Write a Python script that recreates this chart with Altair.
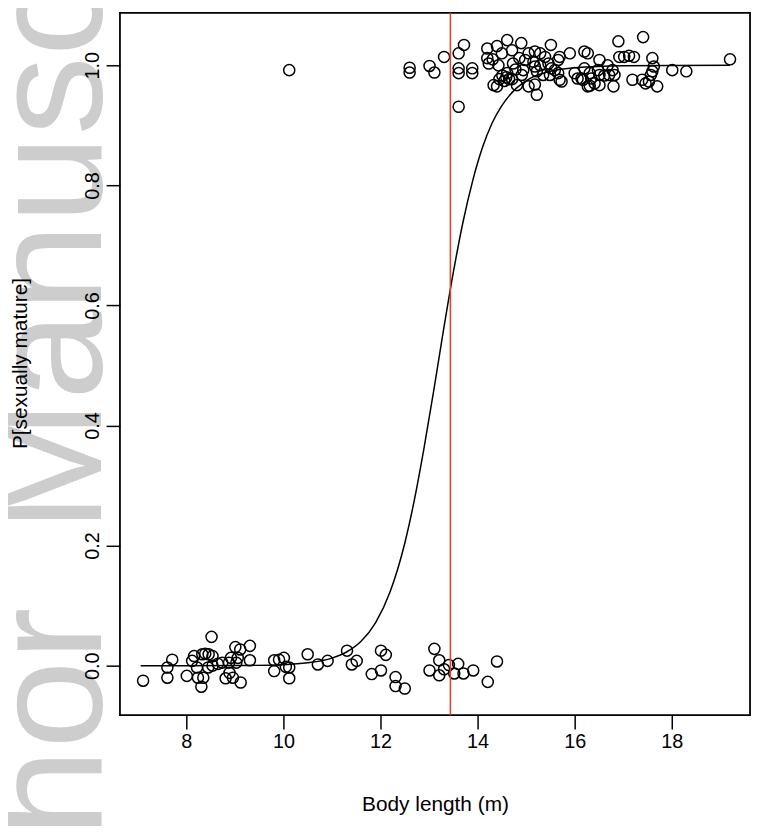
import altair as alt
import pandas as pd

# ---- data ----
imm_len = [7.11, 7.61, 7.61, 7.71, 8.01, 8.12, 8.16, 8.22, 8.24, 8.31, 8.35, 8.33, 8.39, 8.46,
           8.52, 8.54, 8.45, 8.54, 8.65, 8.74, 8.81, 8.88, 8.92, 8.89, 8.96, 9.01, 9.03, 9.06,
           9.11, 9.12, 9.31, 9.31, 9.81, 9.81, 9.91, 10.01, 10.05, 10.12, 10.12, 10.50, 10.71,
           10.91, 11.31, 11.41, 11.51, 11.82, 12.01, 12.01, 12.11, 12.31, 12.31, 12.50, 13.11,
           13.21, 13.01, 13.21, 13.31, 13.41, 13.52, 13.60, 13.71, 13.91, 14.21, 14.40]
imm_p = [-0.025, -0.020, -0.003, 0.010, -0.017, 0.008, 0.016, -0.003, -0.020, -0.035, -0.020,
         0.019, 0.020, 0.019, 0.048, 0.016, -0.003, 0.000, 0.003, 0.005, -0.021, 0.005, 0.013,
         -0.012, -0.020, 0.031, 0.005, 0.013, 0.027, -0.028, 0.033, 0.009, 0.009, -0.009, 0.010,
         0.013, -0.002, -0.003, -0.021, 0.019, 0.002, 0.008, 0.025, 0.002, 0.008, -0.014, -0.008,
         0.025, 0.018, -0.019, -0.034, -0.038, 0.028, 0.009, -0.008, -0.016, -0.006, 0.001,
         -0.013, 0.003, -0.013, -0.008, -0.027, 0.007]

mat_len = [10.12, 12.60, 12.60, 13.01, 13.11, 13.31, 13.72, 13.61, 13.61, 13.61, 13.61, 13.89,
           13.89, 14.20, 14.20, 14.23, 14.40, 14.61, 14.90, 14.71, 14.50, 14.33, 14.40, 14.51,
           14.59, 14.65, 14.55, 14.61, 14.81, 14.91, 14.94, 14.98, 15.05, 15.18, 15.29, 15.15,
           15.18, 15.22, 15.18, 15.22, 15.05, 15.51, 15.39, 15.46, 15.52, 15.59, 15.66, 15.69,
           15.66, 15.69, 15.73, 15.49, 15.90, 16.00, 16.14, 16.17, 16.20, 16.27, 16.20, 16.31,
           16.34, 16.41, 16.27, 16.51, 16.48, 16.51, 16.51, 16.68, 16.71, 16.78, 16.82, 16.80,
           16.90, 16.92, 17.02, 17.12, 17.22, 17.19, 17.41, 17.39, 17.46, 17.53, 17.57, 17.60,
           17.63, 17.70, 17.60, 18.01, 18.30, 19.20, 14.31, 14.43, 14.73, 14.78, 14.45, 14.71,
           15.29, 15.35, 14.86, 16.06, 16.31, 16.61]
mat_p = [0.992, 0.996, 0.988, 0.999, 0.988, 1.014, 1.034, 1.020, 0.995, 0.987, 0.931, 0.995,
         0.987, 1.028, 1.012, 1.003, 1.032, 1.042, 1.037, 1.025, 1.020, 0.967, 0.965, 0.983,
         0.980, 0.977, 0.974, 0.987, 0.967, 0.984, 0.992, 1.009, 1.020, 1.023, 1.020, 1.006,
         0.998, 0.990, 0.968, 0.951, 0.965, 1.034, 1.014, 1.003, 0.995, 0.992, 1.009, 1.014,
         0.987, 0.976, 0.973, 0.984, 1.020, 0.987, 0.978, 0.976, 1.023, 1.020, 0.995, 0.987,
         0.978, 0.970, 0.965, 1.009, 0.992, 0.984, 0.967, 1.000, 0.984, 0.992, 0.984, 0.965,
         1.040, 1.014, 1.014, 1.016, 1.014, 0.976, 1.047, 0.976, 0.970, 0.973, 0.984, 0.990,
         0.998, 0.965, 1.012, 0.992, 0.990, 1.010, 1.010, 1.000, 1.003, 0.993, 0.977, 0.977,
         1.000, 0.984, 1.012, 0.978, 0.966, 0.983]

curve_len = [7.06, 8.0, 9.0, 10.0, 10.5, 11.0, 11.3, 11.6, 11.9, 12.2, 12.5, 12.7, 12.9, 13.1,
             13.3, 13.5, 13.7, 13.9, 14.1, 14.3, 14.5, 14.8, 15.1, 15.5, 16.0, 17.0, 18.0, 19.2]
curve_p = [0.000, 0.000, 0.0002, 0.0017, 0.0047, 0.0126, 0.0228, 0.0407, 0.0718, 0.1235, 0.204,
           0.277, 0.364, 0.460, 0.560, 0.655, 0.739, 0.808, 0.863, 0.904, 0.933, 0.962, 0.979,
           0.990, 0.996, 0.9995, 0.9999, 1.0]

cut_len = [13.44]
watermark_words = ["Author", "Manuscript"]

pts = pd.DataFrame({"len": imm_len + mat_len, "p": imm_p + mat_p})
curve = pd.DataFrame({"len": curve_len, "p": curve_p})
cut = pd.DataFrame({"len": cut_len})

W, H = 636, 709
xs = alt.Scale(domain=[6.633, 19.612], nice=False, zero=False)
ys = alt.Scale(domain=[-0.0825, 1.0875], nice=False, zero=False)

xax = alt.Axis(values=[8, 10, 12, 14, 16, 18], title="Body length (m)", grid=False, domain=False,
               tickSize=14, tickWidth=1.5, tickColor="black", labelFontSize=20, labelColor="black",
               labelFont="Liberation Sans", labelPadding=3, labelBaseline="top", zindex=2,
               titleFont="Liberation Sans", titleFontSize=21, titleFontWeight="normal",
               titleColor="black", titleX=W / 2, titleY=90, titleBaseline="middle",
               titleAlign="center")
yax = alt.Axis(values=[0, 0.2, 0.4, 0.6, 0.8, 1.0], format=".1f", title="P[sexually mature]",
               grid=False, domain=False, tickSize=14, tickWidth=1.5, tickColor="black",
               labelFontSize=20, labelColor="black", labelFont="Liberation Sans", zindex=2,
               labelAngle=270, labelAlign="center", labelBaseline="middle", labelPadding=14,
               titleFont="Liberation Sans", titleFontSize=21, titleFontWeight="normal",
               titleColor="black", titleX=-100, titleY=H / 2 - 1, titleAngle=270,
               titleBaseline="middle", titleAlign="center")


def wm_word(word, ypos):
    return alt.Chart(pd.DataFrame({"t": [word]})).mark_text(
        angle=270, align="left", baseline="alphabetic", fontSize=160, font="Liberation Sans",
        color="#cdcdcd"
    ).encode(text="t:N", x=alt.value(-19), y=alt.value(ypos))


wm1 = wm_word(watermark_words[0], 1072)
wm2 = wm_word(watermark_words[1], 524)

points = alt.Chart(pts).mark_point(
    shape="circle", filled=False, size=125, strokeWidth=1.5, color="black", opacity=1
).encode(x=alt.X("len:Q", scale=xs, axis=xax), y=alt.Y("p:Q", scale=ys, axis=yax))

line = alt.Chart(curve).mark_line(color="black", strokeWidth=1.5, interpolate="monotone").encode(
    x=alt.X("len:Q", scale=xs), y=alt.Y("p:Q", scale=ys))

rule = alt.Chart(cut).mark_rule(color="#e0452b", strokeWidth=1.6).encode(x=alt.X("len:Q", scale=xs))

chart = alt.layer(wm1, wm2, points, line, rule).properties(
    width=W, height=H,
    background="white",
    autosize=alt.AutoSizeParams(type="none"),
    padding={"left": 113, "top": 1, "right": 3, "bottom": 110},
).configure_view(stroke="black", strokeWidth=1.8)

chart.save("out.html", embed_options={"renderer": "svg", "actions": False})
